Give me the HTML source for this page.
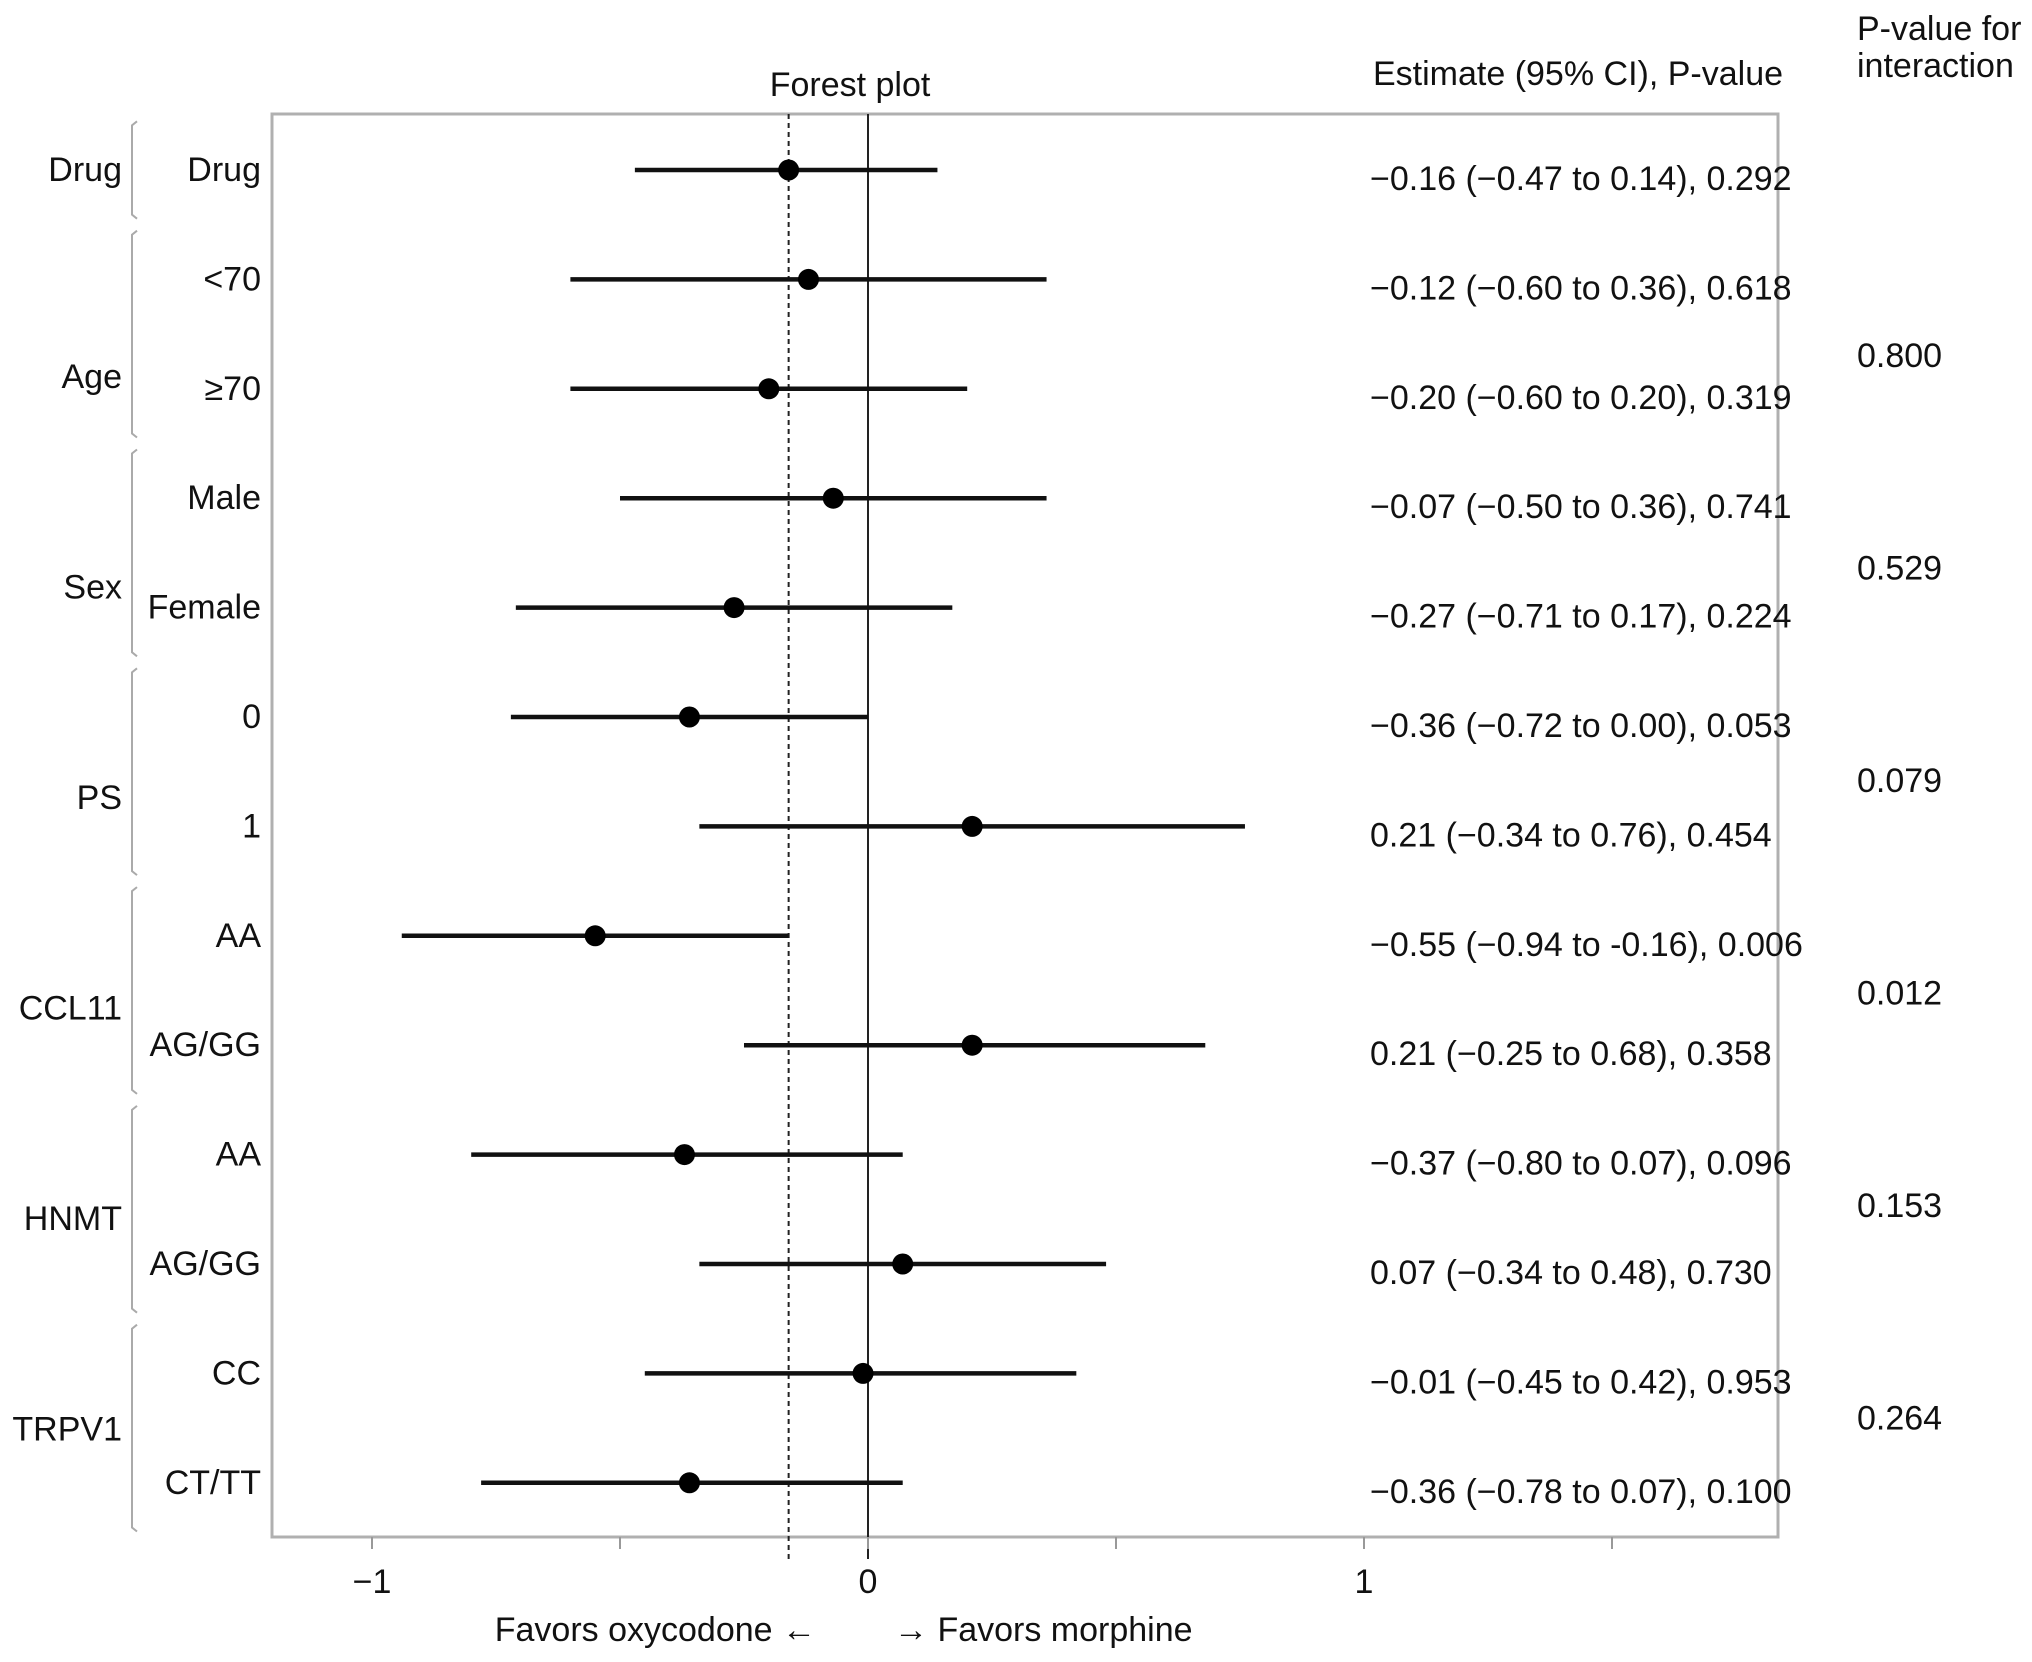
<!DOCTYPE html>
<html><head><meta charset="utf-8"><style>
html,body{margin:0;padding:0;background:#fff;}
svg{display:block;font-family:"Liberation Sans",Arial,sans-serif;}
</style></head><body>
<svg id="chart" width="2032" height="1662" viewBox="0 0 2032 1662">
<g id="g"></g>
</svg>
<script>
const groups = ["Drug","Age","Sex","PS","CCL11","HNMT","TRPV1"];
const groupSizes = [1,2,2,2,2,2,2];
const subgroups = ["Drug","<70","≥70","Male","Female","0","1","AA","AG/GG","AA","AG/GG","CC","CT/TT"];
const estimates = [-0.16,-0.12,-0.20,-0.07,-0.27,-0.36,0.21,-0.55,0.21,-0.37,0.07,-0.01,-0.36];
const lower = [-0.47,-0.60,-0.60,-0.50,-0.71,-0.72,-0.34,-0.94,-0.25,-0.80,-0.34,-0.45,-0.78];
const upper = [0.14,0.36,0.20,0.36,0.17,0.00,0.76,-0.16,0.68,0.07,0.48,0.42,0.07];
const estLabels = ["−0.16 (−0.47 to 0.14), 0.292","−0.12 (−0.60 to 0.36), 0.618","−0.20 (−0.60 to 0.20), 0.319","−0.07 (−0.50 to 0.36), 0.741","−0.27 (−0.71 to 0.17), 0.224","−0.36 (−0.72 to 0.00), 0.053","0.21 (−0.34 to 0.76), 0.454","−0.55 (−0.94 to -0.16), 0.006","0.21 (−0.25 to 0.68), 0.358","−0.37 (−0.80 to 0.07), 0.096","0.07 (−0.34 to 0.48), 0.730","−0.01 (−0.45 to 0.42), 0.953","−0.36 (−0.78 to 0.07), 0.100"];
const interactionP = ["","0.800","0.529","0.079","0.012","0.153","0.264"];
const tickValues = [-1,-0.5,0,0.5,1,1.5];
const tickLabels = ["−1","","0","","1",""];
const overallEstimate = -0.16;

const NS="http://www.w3.org/2000/svg";
const g=document.getElementById('g');
const X0=868, PU=496, L=272, R=1778, T=114, B=1537, ROW0=170, RS=109.4;
const xs=v=>X0+v*PU;
const ys=i=>ROW0+i*RS;
function el(t,a,txt){const e=document.createElementNS(NS,t);for(const k in a)e.setAttribute(k,a[k]);if(txt!==undefined)e.textContent=txt;g.appendChild(e);return e;}
const FS=34;

let e;
e=el('rect',{x:L,y:T,width:R-L,height:B-T,fill:'none',stroke:'#b0b0b0','stroke-width':3});


e=el('text',{x:850,y:96,'font-size':FS,'text-anchor':'middle',fill:'#111'},'Forest plot');


e=el('text',{x:1578,y:85,'font-size':FS,'text-anchor':'middle',fill:'#111'},'Estimate (95% CI), P-value');


e=el('text',{x:1857,y:40,'font-size':FS,fill:'#111'},'P-value for');


e=el('text',{x:1857,y:77,'font-size':FS,fill:'#111'},'interaction');



e=el('line',{x1:xs(0),x2:xs(0),y1:T,y2:B+22,stroke:'#222','stroke-width':2});


e=el('line',{x1:xs(overallEstimate),x2:xs(overallEstimate),y1:T,y2:B+22,stroke:'#222','stroke-width':2,'stroke-dasharray':'5,4'});



tickValues.forEach((v,i)=>{
 let t=el('line',{x1:xs(v),x2:xs(v),y1:B,y2:B+12,stroke:'#999','stroke-width':2});
 
 
 if(tickLabels[i]){
  t=el('text',{x:xs(v),y:1593,'font-size':FS,'text-anchor':'middle',fill:'#111'},tickLabels[i]);
  
  
 }
});

subgroups.forEach((s,i)=>{
 const y=ys(i);
 let t=el('line',{x1:xs(lower[i]),x2:xs(upper[i]),y1:y,y2:y,stroke:'#111','stroke-width':4.5});
 
 
 t=el('circle',{cx:xs(estimates[i]),cy:y,r:10.5,fill:'#000'});
 
 
 t=el('text',{x:261,y:y+11,'font-size':FS,'text-anchor':'end',fill:'#111'},s);
 
 
 t=el('text',{x:1370,y:y+20,'font-size':FS,fill:'#111'},estLabels[i]);
 
 
});

let idx=0;
groups.forEach((gname,k)=>{
 const n=groupSizes[k];
 const y1=ys(idx)-RS/2+6, y2=ys(idx+n-1)+RS/2-6;
 let t=el('path',{d:`M137 ${y1} L132 ${y1+4} L132 ${y2-4} L137 ${y2}`,fill:'none',stroke:'#aaa','stroke-width':2});
 
 
 const ly = k>0 ? 377+(k-1)*210.5 : ys(idx);
 t=el('text',{x:122,y:ly+11,'font-size':FS,'text-anchor':'end',fill:'#111'},gname);
 
 
 if(interactionP[k]){
  t=el('text',{x:1857,y:356+(k-1)*212.5+11,'font-size':FS,fill:'#111'},interactionP[k]);
  
  
 }
 idx+=n;
});

e=el('text',{x:816,y:1641,'font-size':FS,'text-anchor':'end',fill:'#111'},'Favors oxycodone ←');


e=el('text',{x:894,y:1641,'font-size':FS,fill:'#111'},'→ Favors morphine');


</script>
</body></html>
